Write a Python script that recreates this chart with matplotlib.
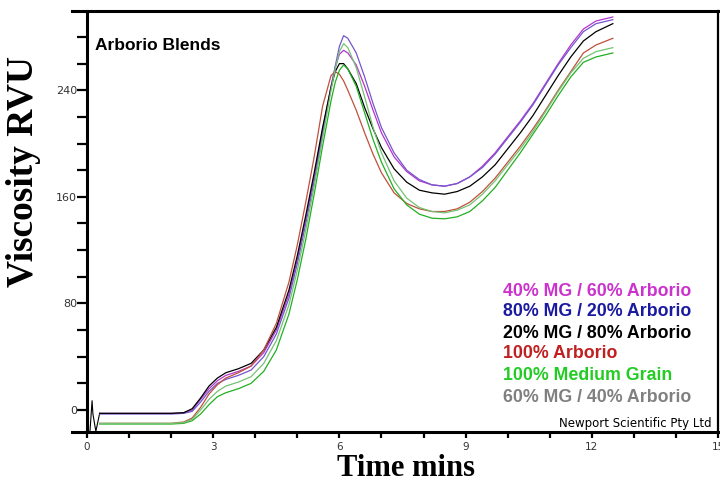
import matplotlib
matplotlib.use("Agg")
import matplotlib.pyplot as plt
from matplotlib.ticker import MultipleLocator

# ---------------- data ----------------
time_min = [0.3, 0.6, 1.0, 1.5, 2.0, 2.3, 2.5, 2.7, 2.9, 3.1, 3.3, 3.6, 3.9, 4.2, 4.5,
            4.8, 5.0, 5.2, 5.4, 5.6, 5.8, 5.9, 6.0, 6.1, 6.2, 6.4, 6.6, 6.8, 7.0, 7.3,
            7.6, 7.9, 8.2, 8.5, 8.8, 9.1, 9.4, 9.7, 10.0, 10.3, 10.6, 10.9, 11.2, 11.5,
            11.8, 12.1, 12.5]

mg40_arb60 = [-2.5, -2.5, -2.5, -2.5, -2.5, -2, 0, 8, 16, 22, 26, 29, 33, 43, 60,
              87, 113, 143, 175, 210, 243, 257, 267, 270, 268, 259, 243, 225, 208, 190,
              179, 172, 169, 168, 170, 175, 183, 193, 205, 217, 230, 245, 260, 274,
              286, 292, 295]

mg80_arb20 = [-3, -3, -3, -3, -3, -2.5, -1, 6, 14, 20, 23, 26, 30, 40, 57,
              84, 110, 140, 172, 207, 242, 258, 273, 281, 279, 268, 250, 230, 212, 193,
              180, 173, 169, 168, 170, 175, 182, 192, 204, 216, 229, 244, 259, 272,
              284, 290, 293]

mg20_arb80 = [-2.5, -2.5, -2.5, -2.5, -2.5, -2, 1, 9, 18, 24, 28, 31, 35, 45, 62,
              90, 116, 146, 178, 212, 242, 254, 260, 260, 256, 245, 227, 211, 197, 181,
              171, 165, 163, 162, 164, 168, 175, 184, 196, 208, 221, 236, 251, 265,
              277, 284, 290]

arb100 = [-10, -10, -10, -10, -10, -9, -6, 2, 12, 19, 24, 28, 33, 45, 65,
          96, 124, 156, 190, 228, 251, 254, 252, 247, 240, 225, 208, 192, 178, 163,
          155, 151, 149, 149, 151, 156, 164, 174, 186, 198, 211, 225, 240, 254,
          268, 274, 279]

mg100 = [-10.5, -10.5, -10.5, -10.5, -10.5, -10, -8, -3, 4, 10, 13, 16, 20, 29, 45,
         72, 98, 128, 162, 198, 232, 246, 255, 259, 256, 243, 223, 203, 186, 166,
         154, 147, 144, 143.5, 145, 149, 157, 167, 180, 193, 207, 221, 236, 250,
         261, 265, 268]

mg60_arb40 = [-10, -10, -10, -10, -10, -9.5, -7, 0, 8, 14, 18, 21, 25, 35, 52,
              79, 105, 135, 168, 204, 240, 256, 269, 275, 272, 257, 235, 212, 193, 172,
              159, 152, 149, 148, 150, 154, 162, 172, 184, 196, 209, 224, 239, 253,
              264, 269, 272]

# start-up spike at the very beginning of the run
start_t = [0.07, 0.12, 0.14, 0.21, 0.3]
start_v = [-16, 7, -3, -16, -2.5]

series_labels = ["40% MG / 60% Arborio", "80% MG / 20% Arborio", "20% MG / 80% Arborio",
                 "100% Arborio", "100% Medium Grain", "60% MG / 40% Arborio"]
series_values = [mg40_arb60, mg80_arb20, mg20_arb80, arb100, mg100, mg60_arb40]
line_colors = ["#b534cf", "#7456cc", "#000000", "#c0503c", "#22b022", "#74c274"]
text_colors = ["#cc33cc", "#1a1aa0", "#000000", "#c02020", "#22cc22", "#808080"]

x_major = [0, 3, 6, 9, 12, 15]
y_major = [0, 80, 160, 240]

# ---------------- figure ----------------
fig = plt.figure(figsize=(7.2, 4.83), dpi=100)
ax = fig.add_axes([72/720, 1 - 432/483, (718 - 72)/720, (432 - 11)/483])

ax.plot(start_t, start_v, color="black", lw=0.8)
for vals, col in zip(series_values, line_colors):
    ax.plot(time_min, vals, color=col, lw=0.9)

ax.set_xlim(-15/42, 15)
ax.set_ylim(-16.5, 299.5)

ax.spines["left"].set_position(("data", 0))
for s in ["left", "top", "bottom"]:
    ax.spines[s].set_linewidth(2.2)
ax.spines["right"].set_linewidth(1.6)

ax.set_xticks(x_major)
ax.set_xticklabels([str(v) for v in x_major])
ax.set_yticks(y_major)
ax.set_yticklabels([str(v) for v in y_major])
ax.xaxis.set_minor_locator(MultipleLocator(1))
ax.yaxis.set_minor_locator(MultipleLocator(20))
ax.tick_params(axis="y", which="both", direction="out", length=7, width=1.6,
               labelsize=8, pad=0, labelcolor="#333333")
ax.tick_params(axis="x", which="both", direction="out", length=4.5, width=1.6,
               labelsize=7.5, pad=3, labelcolor="#333333")
ax.tick_params(top=False, right=False)

# axis titles
fig.text(406/720, 1 - 469/483, "Time mins", ha="center", va="center",
         fontsize=22, fontweight="bold", family="Liberation Serif")
fig.text(24/720, 1 - 172/483, "Viscosity RVU", ha="center", va="center", rotation=90,
         fontsize=27, fontweight="bold", family="Liberation Serif")

ax.text(95/720, 1 - 45/483, "Arborio Blends", transform=fig.transFigure,
        ha="left", va="center", fontsize=12.5, fontweight="bold",
        family="Liberation Sans")

legend_y = [291, 312, 334, 353, 376, 397]
for lab, col, yy in zip(series_labels, text_colors, legend_y):
    fig.text(503/720, 1 - yy/483, lab, ha="left", va="center", color=col,
             fontsize=12.8, fontweight="bold", family="Liberation Sans")

fig.text(712/720, 1 - 424/483, "Newport Scientific Pty Ltd", ha="right", va="center",
         fontsize=8.5, family="DejaVu Sans")

fig.savefig("out.png", dpi=100, facecolor="white")
